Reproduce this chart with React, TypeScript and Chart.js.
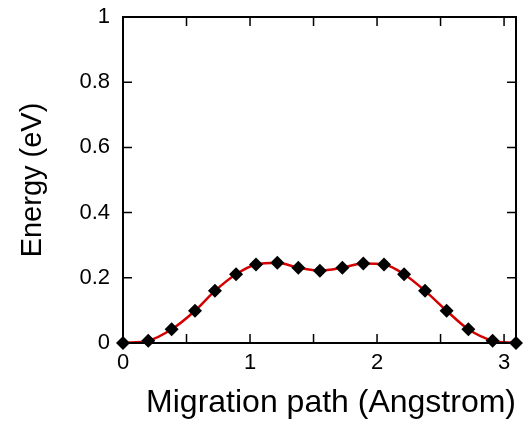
import React, { useEffect, useRef } from "react";
import { Chart, registerables } from "chart.js";

Chart.register(...registerables);

const pathX = [0, 0.199, 0.383, 0.567, 0.724, 0.89, 1.047, 1.215, 1.38, 1.55, 1.727, 1.892, 2.055, 2.213, 2.378, 2.548, 2.719, 2.91, 3.094];
const energyY = [0, 0.007, 0.042, 0.099, 0.16, 0.211, 0.241, 0.246, 0.231, 0.222, 0.231, 0.244, 0.241, 0.211, 0.16, 0.099, 0.042, 0.007, 0];
const xTickLabels = ["0", "1", "2", "3"];
const yTickLabels = ["0", "0.2", "0.4", "0.6", "0.8", "1"];

const FONT = "'Liberation Sans', Arial, Helvetica, sans-serif";
Chart.defaults.font.family = FONT;
Chart.defaults.font.size = 22;
Chart.defaults.color = "#000";

const framePlugin = {
  id: "frame",
  afterDatasetsDraw(chart: any) {
    const { ctx, chartArea: a, scales } = chart;
    const xs = scales.x;
    const ys = scales.y;
    ctx.save();
    ctx.strokeStyle = "#000";
    ctx.lineWidth = 1.5;
    const tl = 9;
    ctx.beginPath();
    for (let v = 0; v <= xs.max + 1e-9; v += 0.5) {
      const px = xs.getPixelForValue(v);
      if (px <= a.left + 1 || px >= a.right - 1) continue;
      ctx.moveTo(px, a.bottom);
      ctx.lineTo(px, a.bottom - tl);
      ctx.moveTo(px, a.top);
      ctx.lineTo(px, a.top + tl);
    }
    for (let v = 0; v <= ys.max + 1e-9; v += 0.2) {
      const py = ys.getPixelForValue(v);
      if (py <= a.top + 1 || py >= a.bottom - 1) continue;
      ctx.moveTo(a.left, py);
      ctx.lineTo(a.left + tl, py);
      ctx.moveTo(a.right, py);
      ctx.lineTo(a.right - tl, py);
    }
    ctx.stroke();
    ctx.lineWidth = 2;
    ctx.strokeRect(a.left, a.top, a.right - a.left, a.bottom - a.top);
    ctx.restore();
  },
};

export default function App() {
  const ref = useRef<HTMLCanvasElement>(null);
  useEffect(() => {
    if (!ref.current) return;
    const chart = new Chart(ref.current, {
      type: "line",
      data: {
        datasets: [
          {
            data: pathX.map((x, i) => ({ x, y: energyY[i] })),
            borderColor: "#d40000",
            borderWidth: 2.5,
            cubicInterpolationMode: "monotone",
            pointStyle: "rectRot",
            pointRadius: 7,
            pointBackgroundColor: "#000",
            pointBorderColor: "#000",
            pointBorderWidth: 0,
            clip: false as any,
          },
        ],
      },
      options: {
        animation: false,
        responsive: false,
        maintainAspectRatio: false,
        layout: { padding: { top: 17, right: 9, left: 0, bottom: 0 } },
        plugins: { legend: { display: false }, tooltip: { enabled: false } },
        scales: {
          x: {
            type: "linear",
            min: 0,
            max: 3.094,
            grid: { display: false, drawTicks: false },
            border: { display: false },
            afterFit: (s: any) => {
              s.height = 79;
              s.paddingLeft = 0;
              s.paddingRight = 0;
            },
            ticks: {
              stepSize: 0.5,
              includeBounds: false,
              autoSkip: false,
              maxRotation: 0,
              padding: 7,
              color: "#000",
              font: { family: FONT, size: 22 },
              callback: (v: any) => {
                const n = Number(v);
                return Math.abs(n - Math.round(n)) < 1e-6 ? xTickLabels[Math.round(n)] : "";
              },
            },
            title: {
              display: true,
              text: "Migration path (Angstrom)",
              align: "end",
              color: "#000",
              font: { family: FONT, size: 32 },
              padding: { top: 0, bottom: 0 },
            },
          },
          y: {
            type: "linear",
            min: 0,
            max: 1,
            grid: { display: false, drawTicks: false },
            border: { display: false },
            afterFit: (s: any) => {
              s.width = 123;
              s.paddingTop = 0;
              s.paddingBottom = 0;
            },
            ticks: {
              stepSize: 0.2,
              padding: 13,
              color: "#000",
              font: { family: FONT, size: 22 },
              callback: (v: any) => yTickLabels[Math.round(Number(v) / 0.2)] ?? "",
            },
            title: {
              display: true,
              text: "Energy (eV)",
              color: "#000",
              font: { family: FONT, size: 29 },
              padding: { top: 16, bottom: 0 },
            },
          },
        },
      },
      plugins: [framePlugin],
    });
    return () => chart.destroy();
  }, []);
  return (
    <div style={{ position: "fixed", left: 0, top: 0, width: 525, height: 422, background: "#fff" }}>
      <canvas ref={ref} width={525} height={422} style={{ width: 525, height: 422 }} />
    </div>
  );
}
